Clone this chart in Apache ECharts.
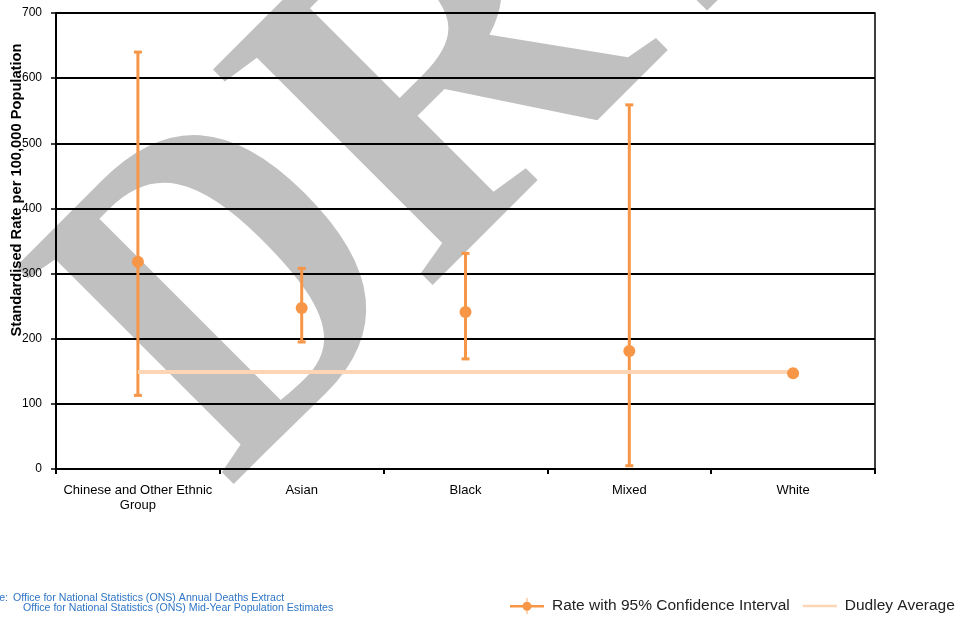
<!DOCTYPE html>
<html><head><meta charset="utf-8">
<script src="https://cdn.jsdelivr.net/npm/echarts@6/dist/echarts.min.js"></script>
<style>html,body{margin:0;padding:0;background:#fff}#c{width:961px;height:622px}</style>
</head><body><div id="c"></div>
<script>
// ---- data ----
const categories = ['Chinese and Other Ethnic\nGroup', 'Asian', 'Black', 'Mixed', 'White'];
const rates = [318, 247, 241, 181, 147];
const lowerCI = [113, 195, 169, 5, 145];
const upperCI = [640, 308, 331, 559, 149];
const dudleyAverage = [149, 149, 149, 149, 149];
const yTicks = [0, 100, 200, 300, 400, 500, 600, 700];
const RATE_NAME = 'Rate with 95% Confidence Interval';
const AVG_NAME = 'Dudley Average';

const ORANGE = '#F79646';
const PEACH = '#FBD5B5';
const FONT = '"Liberation Sans", Arial, sans-serif';

const chart = echarts.init(document.getElementById('c'), null, {renderer: 'canvas'});

const errData = categories.map((c, i) => [i, lowerCI[i], upperCI[i]]);

const wm = 'bold 470px "Liberation Serif", serif';
const wmStyle = (t) => ({text: t, font: wm, fill: '#c0c0c0', align: 'left', verticalAlign: 'middle', textAlign: 'left', textVerticalAlign: 'middle'});
const srcFont = '10.6px ' + FONT;
const SRC = '#2e75c6';
const option = {
  animation: false,
  backgroundColor: '#fff',
  textStyle: {fontFamily: FONT},
  grid: {left: 56, right: 86, top: 13, bottom: 153, show: true, borderColor: '#000', borderWidth: 1.5, backgroundColor: 'transparent'},
  xAxis: {
    type: 'category',
    data: categories,
    boundaryGap: true,
    axisLine: {lineStyle: {color: '#000', width: 2}},
    axisTick: {show: true, alignWithLabel: false, interval: 0, length: 5, lineStyle: {color: '#000', width: 2}},
    axisLabel: {color: '#000', fontSize: 13, margin: 14, lineHeight: 15, interval: 0, fontFamily: FONT},
    splitLine: {show: false}
  },
  yAxis: {
    type: 'value',
    min: yTicks[0],
    max: yTicks[yTicks.length - 1],
    interval: yTicks[1] - yTicks[0],
    axisLine: {show: true, lineStyle: {color: '#000', width: 2}},
    axisTick: {show: true, length: 5, lineStyle: {color: '#000', width: 1.5}},
    axisLabel: {color: '#000', fontSize: 12, margin: 14, fontFamily: FONT},
    splitLine: {show: true, lineStyle: {color: '#000', width: 1.8}}
  },
  legend: {
    left: 510, top: 598, padding: 0,
    itemWidth: 34, itemHeight: 16, itemGap: 13,
    textStyle: {fontSize: 15.5, color: '#222', fontFamily: FONT, padding: [0, 0, 0, 3]},
    data: [
      {name: RATE_NAME, icon: 'path://M0,7 L34,7 L34,9.5 L0,9.5 Z M12.5,8.25 A4.5,4.5 0 1,1 21.5,8.25 A4.5,4.5 0 1,1 12.5,8.25 Z M16.6,0 L17.4,0 L17.4,16 L16.6,16 Z'},
      {name: AVG_NAME, icon: 'path://M0,0 L34,0 L34,2.6 L0,2.6 Z'}
    ]
  },
  graphic: {
    elements: [
      {type: 'text', z: -10, x: 143, y: 403, rotation: Math.PI / 4, scaleX: 0.83, silent: true, style: wmStyle('D')},
      {type: 'text', z: -10, x: 339, y: 207, rotation: Math.PI / 4, silent: true, style: wmStyle('R')},
      {type: 'text', z: -10, x: 618, y: -72, rotation: Math.PI / 4, silent: true, style: wmStyle('AFT')},
      {type: 'text', x: 17, y: 190, rotation: Math.PI / 2,
       style: {text: 'Standardised Rate per 100,000 Population', font: 'bold 14.7px ' + FONT, fill: '#000', align: 'center', verticalAlign: 'middle', textAlign: 'center', textVerticalAlign: 'middle'}},
      {type: 'text', x: 8, y: 598,
       style: {text: 'Source:', font: srcFont, fill: SRC, align: 'right', verticalAlign: 'middle', textAlign: 'right', textVerticalAlign: 'middle'}},
      {type: 'text', x: 13, y: 598,
       style: {text: 'Office for National Statistics (ONS) Annual Deaths Extract', font: srcFont, fill: SRC, align: 'left', verticalAlign: 'middle', textAlign: 'left', textVerticalAlign: 'middle'}},
      {type: 'text', x: 23, y: 608,
       style: {text: 'Office for National Statistics (ONS) Mid-Year Population Estimates', font: srcFont, fill: SRC, align: 'left', verticalAlign: 'middle', textAlign: 'left', textVerticalAlign: 'middle'}}
    ]
  },
  series: [
    {
      name: AVG_NAME,
      type: 'line',
      data: dudleyAverage,
      symbol: 'none',
      z: 3,
      lineStyle: {color: PEACH, width: 4},
      itemStyle: {color: PEACH}
    },
    {
      name: RATE_NAME,
      type: 'custom',
      data: errData,
      encode: {x: 0, y: [1, 2]},
      z: 2,
      itemStyle: {color: ORANGE},
      renderItem: function (params, api) {
        const xi = api.value(0);
        const lo = api.coord([xi, api.value(1)]);
        const hi = api.coord([xi, api.value(2)]);
        const cw = 4;
        const st = {stroke: ORANGE, lineWidth: 3};
        return {type: 'group', children: [
          {type: 'line', shape: {x1: lo[0], y1: lo[1], x2: hi[0], y2: hi[1]}, style: st},
          {type: 'line', shape: {x1: hi[0] - cw, y1: hi[1], x2: hi[0] + cw, y2: hi[1]}, style: st},
          {type: 'line', shape: {x1: lo[0] - cw, y1: lo[1], x2: lo[0] + cw, y2: lo[1]}, style: st}
        ]};
      }
    },
    {
      name: RATE_NAME,
      type: 'scatter',
      data: rates,
      symbol: 'circle',
      symbolSize: 12,
      z: 4,
      itemStyle: {color: ORANGE, opacity: 1}
    }
  ]
};
chart.setOption(option);
</script>
</body></html>
